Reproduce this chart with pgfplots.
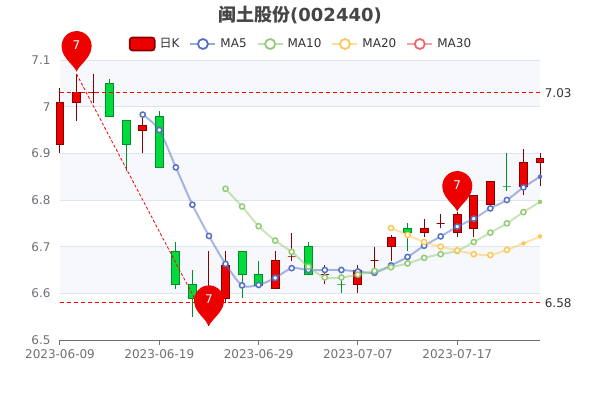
\documentclass[border=0pt]{standalone}
\usepackage{pgfplots}
\pgfplotsset{compat=1.18}
\usepackage{fontspec}
\setmainfont{DejaVu Sans}
\newfontfamily\cjk{Noto Sans CJK SC}
\definecolor{upc}{HTML}{EC0000}
\definecolor{upb}{HTML}{8A0000}
\definecolor{dnc}{HTML}{00DA3C}
\definecolor{dnb}{HTML}{008F28}
\definecolor{mafive}{HTML}{5470C6}
\definecolor{maten}{HTML}{91CC75}
\definecolor{matwenty}{HTML}{FBC858}
\definecolor{mathirty}{HTML}{EE6666}
\definecolor{gridc}{HTML}{E0E6F1}
\definecolor{axisc}{HTML}{6E7079}
\definecolor{band}{HTML}{D2DBEE}
\definecolor{titlec}{HTML}{464646}
\definecolor{legc}{HTML}{333333}
\pgfdeclareplotmark{pin}{%
  \pgfpathmoveto{\pgfpoint{0pt}{0pt}}%
  \pgfpathcurveto{\pgfpoint{-2pt}{6pt}}{\pgfpoint{-13.5pt}{13pt}}{\pgfpoint{-14.7pt}{23pt}}%
  \pgfpatharc{190}{-10}{15pt}%
  \pgfpathcurveto{\pgfpoint{13.5pt}{13pt}}{\pgfpoint{2pt}{6pt}}{\pgfpoint{0pt}{0pt}}%
  \pgfpathclose
  \pgfusepathqfill
}
\newcommand\candle[7]{% index, bottom, top, low, high, fill, border
  \addplot[forget plot,no marks,draw=#7,line width=1pt] coordinates {(#1,#4)(#1,#5)};
  \pgfmathsetmacro\xl{#1-0.24}\pgfmathsetmacro\xr{#1+0.24}
  \addplot[forget plot,no marks,draw=#7,fill=#6,line width=1pt] coordinates {(\xl,#2)(\xr,#2)(\xr,#3)(\xl,#3)} --cycle;
}
\newcommand\up[5]{\candle{#1}{#2}{#3}{#4}{#5}{upc}{upb}}
\newcommand\dn[5]{\candle{#1}{#2}{#3}{#4}{#5}{dnc}{dnb}}
\pgfplotstableread{
i  v
5  6.983
6  6.950
7  6.870
8  6.790
9  6.723
10 6.663
11 6.617
12 6.618
13 6.633
14 6.654
15 6.650
16 6.650
17 6.650
18 6.647
19 6.644
20 6.660
21 6.678
22 6.702
23 6.722
24 6.743
25 6.760
26 6.782
27 6.800
28 6.827
29 6.850
}\mafivetab
\pgfplotstableread{
i  v
10 6.824
11 6.786
12 6.744
13 6.713
14 6.689
15 6.657
16 6.634
17 6.634
18 6.640
19 6.648
20 6.656
21 6.664
22 6.676
23 6.684
24 6.691
25 6.710
26 6.730
27 6.750
28 6.774
29 6.796
}\matentab
\pgfplotstableread{
i  v
20 6.740
21 6.725
22 6.710
23 6.700
24 6.692
25 6.684
26 6.682
27 6.693
28 6.707
29 6.722
}\matwentytab
\tikzset{
  maline/.style={no marks,smooth,tension=0.45,line width=2pt,draw=#1,draw opacity=0.5},
  mamark/.style={only marks,mark=*,mark size=2.6pt,mark options={draw=#1,fill=white,line width=1.5pt,draw opacity=1,fill opacity=1}},
}
\pgfplotsset{
  malegend/.style={legend image code/.code={%
    \draw[#1!100,line width=2pt,opacity=0.6] (0pt,0pt) -- (25pt,0pt);
    \draw[#1,line width=1.8pt,fill=white] (12.5pt,0pt) circle (5pt);
  }},
}
\begin{document}
\begin{tikzpicture}
\useasboundingbox (-60pt,-60pt) rectangle (540pt,340pt);
\begin{axis}[
  at={(0pt,0pt)},anchor=south west,
  scale only axis,width=480pt,height=280pt,
  xmin=0,xmax=29,ymin=6.5,ymax=7.1,
  clip=false,
  axis x line*=bottom,axis y line*=left,
  y axis line style={draw=none},
  x axis line style={draw=axisc,line width=1pt,-},
  xtick={0,6,12,18,24},
  xticklabels={2023-06-09,2023-06-19,2023-06-29,2023-07-07,2023-07-17},
  ytick={6.5,6.6,6.7,6.8,6.9,7,7.1},
  yticklabels={6.5,6.6,6.7,6.8,6.9,7,7.1},
  ymajorgrids,grid style={draw=gridc,line width=1pt},
  tick label style={font=\fontsize{12}{14}\selectfont,text=axisc},
  /pgf/number format/assume math mode=true,
  x tick style={draw=axisc,line width=1pt},
  major tick length=5pt,
  tick align=outside,
  ytick style={draw=none},
  xticklabel style={yshift=-1pt},
  yticklabel style={xshift=-1pt},
  title={\fontsize{18}{22}\selectfont\bfseries{\cjk\bfseries 闽土股份}(002440)},
  title style={at={(0.5,1)},anchor=center,yshift=39pt,text=titlec},
  legend style={at={(0.502,1)},anchor=center,yshift=16pt,draw=none,fill=none,
    font=\fontsize{12}{14}\selectfont,text=legc,
    /tikz/every even column/.append style={column sep=8pt},
    /tikz/every odd column/.append style={column sep=2pt},
    legend cell align=left},
  legend columns=5,
]
% split areas
\addplot[forget plot,draw=none,fill=band,fill opacity=0.2] coordinates {(0,7.0)(29,7.0)(29,7.1)(0,7.1)} --cycle;
\addplot[forget plot,draw=none,fill=band,fill opacity=0.2] coordinates {(0,6.8)(29,6.8)(29,6.9)(0,6.9)} --cycle;
\addplot[forget plot,draw=none,fill=band,fill opacity=0.2] coordinates {(0,6.6)(29,6.6)(29,6.7)(0,6.7)} --cycle;
% candles: index, bottom, top, low, high
\up{0}{6.92}{7.01}{6.90}{7.04}
\up{1}{7.01}{7.03}{6.97}{7.07}
\up{2}{7.03}{7.03}{7.008}{7.07}
\dn{3}{6.98}{7.05}{6.98}{7.06}
\dn{4}{6.92}{6.97}{6.862}{6.97}
\up{5}{6.95}{6.96}{6.90}{6.98}
\dn{6}{6.87}{6.98}{6.87}{6.99}
\dn{7}{6.62}{6.69}{6.61}{6.71}
\dn{8}{6.59}{6.62}{6.55}{6.65}
\up{9}{6.58}{6.60}{6.53}{6.69}
\up{10}{6.59}{6.66}{6.58}{6.69}
\dn{11}{6.64}{6.69}{6.59}{6.69}
\dn{12}{6.617}{6.64}{6.617}{6.67}
\up{13}{6.61}{6.67}{6.61}{6.69}
\up{14}{6.68}{6.68}{6.67}{6.73}
\dn{15}{6.64}{6.70}{6.64}{6.71}
\up{16}{6.64}{6.64}{6.62}{6.66}
\dn{17}{6.62}{6.62}{6.60}{6.64}
\up{18}{6.62}{6.65}{6.60}{6.66}
\up{19}{6.67}{6.67}{6.645}{6.70}
\up{20}{6.70}{6.72}{6.67}{6.725}
\dn{21}{6.73}{6.74}{6.69}{6.75}
\up{22}{6.73}{6.74}{6.72}{6.76}
\up{23}{6.75}{6.75}{6.74}{6.77}
\up{24}{6.73}{6.77}{6.72}{6.775}
\up{25}{6.74}{6.81}{6.72}{6.81}
\up{26}{6.79}{6.84}{6.79}{6.84}
\dn{27}{6.83}{6.83}{6.82}{6.90}
\up{28}{6.83}{6.88}{6.81}{6.91}
\up{29}{6.88}{6.89}{6.83}{6.90}
% moving averages
\addplot[forget plot,maline=mafive] table[x=i,y=v] {\mafivetab};
\addplot[forget plot,maline=maten] table[x=i,y=v] {\matentab};
\addplot[forget plot,maline=matwenty] table[x=i,y=v] {\matwentytab};
\addplot[forget plot,mamark=mafive,mark indices={1,...,24}] table[x=i,y=v] {\mafivetab};
\addplot[forget plot,mamark=maten,mark indices={1,...,19}] table[x=i,y=v] {\matentab};
\addplot[forget plot,mamark=matwenty,mark indices={1,...,8}] table[x=i,y=v] {\matwentytab};
\addplot[forget plot,only marks,mark=*,mark size=2pt,mark options={fill=mafive,draw=mafive}] coordinates {(29,6.850)};
\addplot[forget plot,only marks,mark=*,mark size=2pt,mark options={fill=maten,draw=maten}] coordinates {(29,6.796)};
\addplot[forget plot,only marks,mark=*,mark size=2pt,mark options={fill=matwenty,draw=matwenty}] coordinates {(28,6.707)(29,6.722)};
% mark lines
\addplot[forget plot,no marks,draw=red,line width=1pt,dash pattern=on 4pt off 3pt] coordinates {(0,7.03)(29,7.03)} node[pos=1,anchor=west,xshift=1pt,text=legc,font=\fontsize{12}{14}\selectfont] {7.03};
\addplot[forget plot,no marks,draw=red,line width=1pt,dash pattern=on 4pt off 3pt] coordinates {(0,6.58)(29,6.58)} node[pos=1,anchor=west,xshift=1pt,text=legc,font=\fontsize{12}{14}\selectfont] {6.58};
\addplot[forget plot,no marks,draw=red,line width=0.8pt,dash pattern=on 3pt off 2pt] coordinates {(1,7.07)(9,6.53)};
% pins
\addplot[forget plot,only marks,mark=pin,color=upc,
  nodes near coords={7},
  nodes near coords style={anchor=center,text=white,yshift=26.7pt,font=\fontsize{12}{14}\selectfont}]
  coordinates {(1,7.075)(9,6.53)(24,6.775)};
% legend
\addlegendimage{legend image code/.code={%
  \draw[upb,line width=1.8pt,fill=upc,rounded corners=3pt] (0pt,-6.5pt) rectangle (25pt,6.5pt);}}
\addlegendentry{{\cjk 日}K}
\addlegendimage{malegend=mafive}
\addlegendentry{MA5}
\addlegendimage{malegend=maten}
\addlegendentry{MA10}
\addlegendimage{malegend=matwenty}
\addlegendentry{MA20}
\addlegendimage{malegend=mathirty}
\addlegendentry{MA30}
\end{axis}
\end{tikzpicture}
\end{document}
